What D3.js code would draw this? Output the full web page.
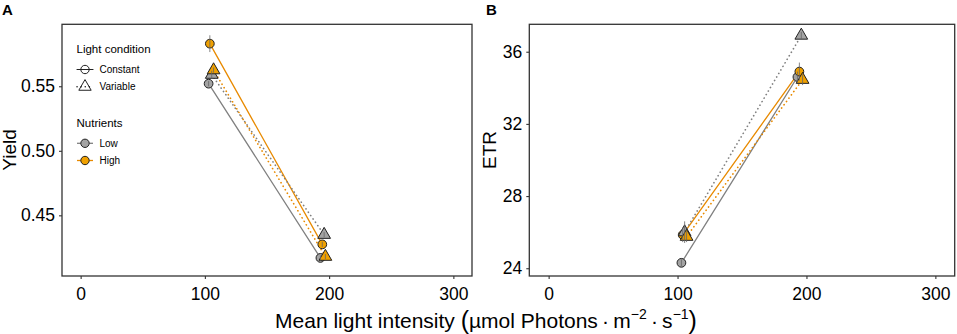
<!DOCTYPE html>
<html>
<head>
<meta charset="utf-8">
<script src="https://cdn.jsdelivr.net/npm/d3@7"></script>
<style>
  body { margin: 0; background: #fff; }
  svg text { font-family: "Liberation Sans", Arial, Helvetica, sans-serif; }
</style>
</head>
<body>
<svg id="fig" width="957" height="334"></svg>
<script>
// Series order: Low/Constant, High/Constant, Low/Variable, High/Variable
const seriesLight = ["Constant", "Constant", "Variable", "Variable"];
const seriesNutrients = ["Low", "High", "Low", "High"];
// mean light intensity (slightly dodged in the original)
const intensity = [[103, 193], [104, 194.5], [105.5, 196], [107, 197]];
const yieldMean = [[0.552, 0.417], [0.583, 0.4275], [0.559, 0.435], [0.5625, 0.418]];
const yieldErr = [[0.002, 0.002], [0.0065, 0.002], [0.003, 0.002], [0.002, 0.002]];
const etrMean = [[24.3, 34.6], [25.85, 34.9], [26.0, 36.9], [25.75, 34.45]];
const etrErr = [[0.2, 0.3], [0.4, 0.5], [0.6, 0.2], [0.3, 0.3]];

const xTicks = [0, 100, 200, 300];
const yieldTicks = [0.45, 0.50, 0.55];
const etrTicks = [24, 28, 32, 36];

const fillCol = { Low: "#A3A3A3", High: "#EFA000" };
const lineCol = { Low: "#808080", High: "#E88A00" };

const svg = d3.select("#fig");

function drawPanel(opt) {
    const x = d3.scaleLinear().domain([-15, 315]).range([opt.left, opt.right]);
    const y = d3.scaleLinear().domain(opt.yDomain).range([276, 24.3]);

    const g = svg.append("g");

    // axes
    const xAxis = g.append("g")
        .attr("transform", `translate(0,276)`)
        .call(d3.axisBottom(x).tickValues(xTicks).tickSize(3).tickPadding(4).tickFormat(d3.format("d")));
    const yAxis = g.append("g")
        .attr("transform", `translate(${opt.left},0)`)
        .call(d3.axisLeft(y).tickValues(opt.yTicks).tickSize(3).tickPadding(4).tickFormat(opt.fmt));
    [xAxis, yAxis].forEach(a => {
        a.select(".domain").remove();
        a.selectAll(".tick line").attr("stroke", "#333").attr("stroke-width", 1.1);
        a.selectAll(".tick text").attr("fill", "#000").style("font-size", "17.5px");
    });
    xAxis.selectAll(".tick text").attr("dy", "0.95em");

    // series lines
    const line = d3.line().x(d => x(d[0])).y(d => y(d[1]));
    seriesLight.forEach((light, i) => {
        const pts = intensity[i].map((v, j) => [v, opt.mean[i][j]]);
        g.append("path")
            .attr("d", line(pts))
            .attr("fill", "none")
            .attr("stroke", lineCol[seriesNutrients[i]])
            .attr("stroke-width", light === "Variable" ? 1.7 : 1.3)
            .attr("stroke-linecap", "round")
            .attr("stroke-dasharray", light === "Variable" ? "0.1,4" : null);
    });

    // points
    seriesLight.forEach((light, i) => {
        const sym = d3.symbol()
            .type(light === "Constant" ? d3.symbolCircle : d3.symbolTriangle)
            .size(light === "Constant" ? 60 : 70);
        intensity[i].forEach((v, j) => {
            g.append("path")
                .attr("d", sym())
                .attr("transform", `translate(${x(v)},${y(opt.mean[i][j])})`)
                .attr("fill", fillCol[seriesNutrients[i]])
                .attr("stroke", "#222")
                .attr("stroke-width", 1);
        });
    });

    // error bars
    seriesLight.forEach((light, i) => {
        intensity[i].forEach((v, j) => {
            const m = opt.mean[i][j], e = opt.err[i][j];
            g.append("line")
                .attr("x1", x(v)).attr("x2", x(v))
                .attr("y1", y(m - e)).attr("y2", y(m + e))
                .attr("stroke", "#666")
                .attr("stroke-width", 0.8);
        });
    });

    // panel border
    g.append("rect")
        .attr("x", opt.left).attr("y", 24.3)
        .attr("width", opt.right - opt.left).attr("height", 276 - 24.3)
        .attr("fill", "none").attr("stroke", "#333").attr("stroke-width", 1.3);

    // y title
    g.append("text")
        .attr("transform", `translate(${opt.yTitleX},150) rotate(-90)`)
        .attr("text-anchor", "middle")
        .style("font-size", "19px")
        .text(opt.yTitle);

    // panel tag
    g.append("text")
        .attr("x", opt.tagX).attr("y", 15)
        .style("font-size", "15px").style("font-weight", "bold")
        .text(opt.tag);

    return { x, y, g };
}

drawPanel({
    left: 62, right: 472, yDomain: [0.403, 0.598], yTicks: yieldTicks,
    fmt: d3.format(".2f"), mean: yieldMean, err: yieldErr,
    yTitle: "Yield", yTitleX: 16, tag: "A", tagX: 2
});
drawPanel({
    left: 529.3, right: 954.7, yDomain: [23.57, 37.52], yTicks: etrTicks,
    fmt: d3.format("d"), mean: etrMean, err: etrErr,
    yTitle: "ETR", yTitleX: 496, tag: "B", tagX: 486
});

// legend in panel A
const lg = svg.append("g");
const keyX = 85, labX = 99.5;
lg.append("text").attr("x", 76.5).attr("y", 53).style("font-size", "11.5px").text("Light condition");
[["Constant", 69.5], ["Variable", 86.7]].forEach(([name, ky]) => {
    lg.append("line")
        .attr("x1", keyX - 8).attr("x2", keyX + 8).attr("y1", ky).attr("y2", ky)
        .attr("stroke", "#222").attr("stroke-width", name === "Variable" ? 1.5 : 1.1)
        .attr("stroke-linecap", "round")
        .attr("stroke-dasharray", name === "Variable" ? "0.1,4" : null);
    lg.append("path")
        .attr("d", d3.symbol().type(name === "Constant" ? d3.symbolCircle : d3.symbolTriangle)
            .size(name === "Constant" ? 55 : 66)())
        .attr("transform", `translate(${keyX},${ky})`)
        .attr("fill", "none").attr("stroke", "#222").attr("stroke-width", 1);
    lg.append("text").attr("x", labX).attr("y", ky + 3.6).style("font-size", "10px").text(name);
});
lg.append("text").attr("x", 76.5).attr("y", 127).style("font-size", "11.5px").text("Nutrients");
[["Low", 143.3], ["High", 160.5]].forEach(([name, ky]) => {
    lg.append("line")
        .attr("x1", keyX - 8).attr("x2", keyX + 8).attr("y1", ky).attr("y2", ky)
        .attr("stroke", lineCol[name]).attr("stroke-width", 1.3);
    lg.append("path")
        .attr("d", d3.symbol().type(d3.symbolCircle).size(55)())
        .attr("transform", `translate(${keyX},${ky})`)
        .attr("fill", fillCol[name]).attr("stroke", "#222").attr("stroke-width", 1);
    lg.append("text").attr("x", labX).attr("y", ky + 3.6).style("font-size", "10px").text(name);
});

// shared x axis title
const xt = svg.append("text")
    .attr("x", 486).attr("y", 328)
    .attr("text-anchor", "middle")
    .style("font-size", "21px");
xt.append("tspan").text("Mean light intensity ");
xt.append("tspan").style("font-size", "25px").attr("dy", "1").text("(");
xt.append("tspan").attr("dy", "-1").text("\u00B5mol Photons\u2009\u00B7\u2009m");
xt.append("tspan").style("font-size", "14px").attr("dy", "-9").text("\u22122");
xt.append("tspan").attr("dy", "9").text("\u2009\u00B7\u2009s");
xt.append("tspan").style("font-size", "14px").attr("dy", "-9").text("\u22121");
xt.append("tspan").style("font-size", "25px").attr("dy", "10").text(")");
</script>
</body>
</html>
